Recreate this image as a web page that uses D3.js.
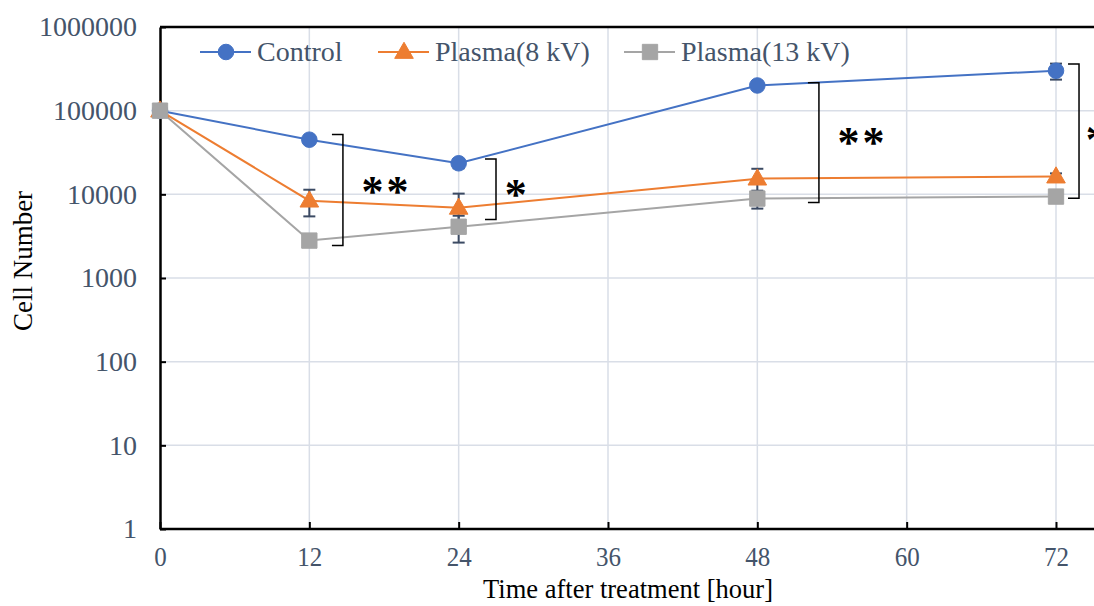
<!DOCTYPE html>
<html><head><meta charset="utf-8">
<script src="https://cdn.jsdelivr.net/npm/d3@7"></script>
<style>body{margin:0;background:#fff}svg{display:block}</style>
</head><body><svg id="c" width="1094" height="606"></svg>
<script>
const times = [0, 12, 24, 48, 72];
const seriesNames = ["Control", "Plasma(8 kV)", "Plasma(13 kV)"];
const controlVals = [100000, 45000, 23500, 200000, 300000];
const controlErr  = [0, 2500, 3000, 10000, 65000];
const plasma8Vals = [100000, 8400, 6900, 15400, 16300];
const plasma8Err  = [0, 2950, 3300, 4800, 1500];
const plasma13Vals = [100000, 2800, 4100, 8900, 9400];
const plasma13Err  = [0, 300, 1450, 2150, 900];
const xTicks = [0, 12, 24, 36, 48, 60, 72];
const yTicks = [1, 10, 100, 1000, 10000, 100000, 1000000];
// significance brackets (in data units): bracket hour, top value, bottom value, label hour, label value, label
const bracketHours = [14.7, 27.0, 52.95, 73.85];
const bracketTop = [52000, 26500, 215000, 360000];
const bracketBottom = [2450, 5000, 8000, 9000];
const labelHours = [18.2, 28.7, 56.45, 75.4];
const labelVals = [12500, 11500, 48000, 52000];
const bracketLabels = ["**", "*", "**", "*"];

const FONT = "Liberation Serif";
const colors = ["#4472C4", "#ED7D31", "#A5A5A5"];
const svg = d3.select("#c");
const L = 160, B = 529, T = 27;
const x = d3.scaleLinear().domain([0, 72]).range([L, 1056]);
const y = d3.scaleLog().domain([1, 1000000]).range([B, T]);

// grid
svg.append("g").selectAll("line").data(xTicks.slice(1)).join("line")
  .attr("x1", d => x(d)).attr("x2", d => x(d)).attr("y1", T).attr("y2", B)
  .attr("stroke", "#D9DEE7").attr("stroke-width", 1.5);
svg.append("g").selectAll("line").data(yTicks.slice(1, -1)).join("line")
  .attr("x1", L).attr("x2", 1094).attr("y1", d => y(d)).attr("y2", d => y(d))
  .attr("stroke", "#D9DEE7").attr("stroke-width", 1.5);

// axes
const yAxis = svg.append("g").attr("transform", `translate(${L},0)`)
  .call(d3.axisLeft(y).tickValues(yTicks).tickFormat(d3.format("d")).tickSizeInner(-6).tickSizeOuter(0).tickPadding(23));
yAxis.attr("font-family", FONT);
yAxis.select(".domain").attr("stroke", "#000").attr("stroke-width", 2.5);
yAxis.selectAll(".tick line").attr("stroke", "#000").attr("stroke-width", 2);
yAxis.selectAll(".tick text").attr("font-size", 28).attr("fill", "#44546A");

const xAxis = svg.append("g").attr("transform", `translate(0,${B})`)
  .call(d3.axisBottom(x).tickValues(xTicks).tickSizeInner(-7).tickSizeOuter(0).tickPadding(18));
xAxis.attr("font-family", FONT);
xAxis.select(".domain").attr("stroke", "#000").attr("stroke-width", 2.5).attr("d", `M${L},0H1094`);
xAxis.selectAll(".tick line").attr("stroke", "#000").attr("stroke-width", 2);
xAxis.selectAll(".tick text").attr("font-size", 27).attr("fill", "#44546A")
  .attr("textLength", d => String(d).length * 12.5).attr("lengthAdjust", "spacingAndGlyphs");

// top border
svg.append("line").attr("x1", L).attr("x2", 1094).attr("y1", y(1000000)).attr("y2", y(1000000))
  .attr("stroke", "#000").attr("stroke-width", 2.5);

// titles
svg.append("text").attr("x", 628).attr("y", 598).attr("text-anchor", "middle").attr("font-size", 27)
  .attr("font-family", FONT).attr("fill", "#000")
  .attr("textLength", 290).attr("lengthAdjust", "spacingAndGlyphs").text("Time after treatment [hour]");
svg.append("text").attr("transform", "translate(32,261) rotate(-90)").attr("text-anchor", "middle")
  .attr("font-family", FONT).attr("font-size", 27).attr("fill", "#000").text("Cell Number");

const series = [
  {name: seriesNames[0], vals: controlVals, err: controlErr, color: colors[0], shape: "circle"},
  {name: seriesNames[1], vals: plasma8Vals, err: plasma8Err, color: colors[1], shape: "triangle"},
  {name: seriesNames[2], vals: plasma13Vals, err: plasma13Err, color: colors[2], shape: "square"}
];
const line = d3.line().x(d => x(d[0])).y(d => y(d[1]));
const sym = {
  circle: d3.symbol().type(d3.symbolCircle).size(190),
  triangle: d3.symbol().type(d3.symbolTriangle).size(150),
  square: d3.symbol().type(d3.symbolSquare).size(235)
};
function drawMarker(g, s, cx, cy) {
  g.append("path").attr("d", sym[s.shape]()).attr("transform", `translate(${cx},${cy + (s.shape === "triangle" ? 1 : 0)})`)
    .attr("fill", s.color).attr("stroke", s.color).attr("stroke-width", 1);
}
series.forEach(s => {
  svg.append("path").datum(times.map((t, i) => [t, s.vals[i]])).attr("d", line)
    .attr("fill", "none").attr("stroke", s.color).attr("stroke-width", 2);
});
series.forEach(s => {
  const g = svg.append("g");
  times.forEach((t, i) => {
    if (!s.err[i]) return;
    const cx = x(t), y1 = y(s.vals[i] + s.err[i]), y2 = y(s.vals[i] - s.err[i]);
    g.append("line").attr("x1", cx).attr("x2", cx).attr("y1", y1).attr("y2", y2).attr("stroke", "#3B4A63").attr("stroke-width", 2);
    [y1, y2].forEach(yy => g.append("line").attr("x1", cx - 6).attr("x2", cx + 6).attr("y1", yy).attr("y2", yy).attr("stroke", "#3B4A63").attr("stroke-width", 2));
  });
});
series.forEach(s => {
  const g = svg.append("g");
  times.forEach((t, i) => drawMarker(g, s, x(t), y(s.vals[i])));
});

// brackets
bracketHours.forEach((h, i) => {
  const bx = x(h), y1 = y(bracketTop[i]), y2 = y(bracketBottom[i]);
  svg.append("path").attr("d", `M${bx - 11},${y1}H${bx}V${y2}H${bx - 11}`)
    .attr("fill", "none").attr("stroke", "#000").attr("stroke-width", 1.5);
  svg.append("text").attr("x", x(labelHours[i])).attr("y", y(labelVals[i]) + 20)
    .attr("text-anchor", "middle").attr("font-size", 44).attr("font-weight", "bold")
    .attr("font-family", FONT).attr("fill", "#000").attr("letter-spacing", 3).text(bracketLabels[i]);
});

// legend
const legX = [200, 378, 624];
series.forEach((s, i) => {
  const g = svg.append("g").attr("transform", `translate(${legX[i]},52)`);
  g.append("line").attr("x1", 0).attr("x2", 51).attr("stroke", s.color).attr("stroke-width", 2);
  drawMarker(g, s, 26, 0);
  g.append("text").attr("x", 57).attr("y", 9).attr("font-size", 28).attr("font-family", FONT)
    .attr("fill", "#44546A").text(s.name);
});
</script></body></html>
